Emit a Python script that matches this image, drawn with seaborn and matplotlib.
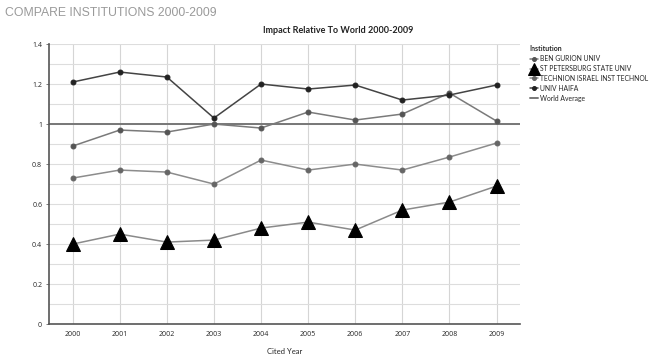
import matplotlib
matplotlib.use('Agg')
from matplotlib import pyplot as plt
import seaborn as sns
import pandas as pd

years = [2000, 2001, 2002, 2003, 2004, 2005, 2006, 2007, 2008, 2009]
ben_gurion = [0.89, 0.97, 0.96, 1.00, 0.98, 1.06, 1.02, 1.05, 1.155, 1.015]
st_petersburg = [0.40, 0.45, 0.41, 0.42, 0.48, 0.51, 0.47, 0.57, 0.61, 0.69]
technion = [0.73, 0.77, 0.76, 0.70, 0.82, 0.77, 0.80, 0.77, 0.835, 0.905]
haifa = [1.21, 1.26, 1.235, 1.03, 1.20, 1.175, 1.195, 1.12, 1.145, 1.195]
world_average = 1.0
institutions = ['BEN GURION UNIV', 'ST PETERSBURG STATE UNIV',
                'TECHNION ISRAEL INST TECHNOL', 'UNIV HAIFA']

df = pd.DataFrame({'year': years * 4,
                   'impact': ben_gurion + st_petersburg + technion + haifa,
                   'inst': [n for n in institutions for _ in years]})

sns.set_style('white')
plt.rcParams['font.family'] = ['Lato', 'DejaVu Sans']

fig = plt.figure(figsize=(6.55, 3.55), dpi=100)
ax = fig.add_axes([0.075, 0.087, 0.719, 0.789])

styles = {
    'BEN GURION UNIV': dict(color='#7a7a7a', marker='o', ms=3.5, mfc='#555555', mec='#555555'),
    'ST PETERSBURG STATE UNIV': dict(color='#8a8a8a', marker='^', ms=10, mfc='black', mec='black'),
    'TECHNION ISRAEL INST TECHNOL': dict(color='#8c8c8c', marker='o', ms=3.5, mfc='#666666', mec='#666666'),
    'UNIV HAIFA': dict(color='#444444', marker='o', ms=3.5, mfc='#222222', mec='#222222'),
}
for name in institutions:
    st = styles[name]
    sns.lineplot(data=df[df.inst == name], x='year', y='impact', ax=ax, label=name,
                 color=st['color'], marker=st['marker'], markersize=st['ms'],
                 markerfacecolor=st['mfc'], markeredgecolor=st['mec'], lw=1.1, zorder=3)
ax.axhline(world_average, color='#777777', lw=1.4, label='World Average', zorder=2)

tick_font = ['Open Sans', 'DejaVu Sans']
ax.set_xlim(1999.5, 2009.5)
ax.set_ylim(0, 1.4)
ax.set_xticks(years)
ax.set_xticklabels([str(y) for y in years], fontsize=5, family=tick_font)
ax.set_yticks([0, 0.2, 0.4, 0.6, 0.8, 1.0, 1.2, 1.4])
ax.set_yticklabels(['0', '0.2', '0.4', '0.6', '0.8', '1', '1.2', '1.4'], fontsize=5, family=tick_font)
ax.set_yticks([0.1, 0.3, 0.5, 0.7, 0.9, 1.1, 1.3], minor=True)
ax.grid(True, which='both', axis='y', color='#dddddd', lw=0.8)
ax.grid(True, axis='x', color='#d5d5d5', lw=0.8)
ax.tick_params(axis='both', length=2, width=0.6, color='#666666', pad=3, left=True, bottom=False)
ax.tick_params(axis='y', which='minor', length=0)
for side in ['top', 'right']:
    ax.spines[side].set_visible(False)
for side in ['left', 'bottom']:
    ax.spines[side].set_color('#555555')
    ax.spines[side].set_linewidth(1.2)
ax.set_xlabel('Cited Year', fontsize=5.5, labelpad=7)
ax.set_ylabel('')

leg = ax.legend(loc='upper left', bbox_to_anchor=(1.012, 1.01), frameon=False, fontsize=4.9,
                title='Institution', title_fontsize=5, handlelength=1.2,
                handletextpad=0.3, labelspacing=0.42, borderaxespad=0.2, markerscale=0.8)
leg._legend_box.align = 'left'
leg.get_title().set_fontweight('bold')

fig.text(0.516, 0.913, 'Impact Relative To World 2000-2009', fontsize=6.5,
         fontweight='bold', ha='center', va='center', color='#222222')
fig.text(0.008, 0.962, 'COMPARE INSTITUTIONS 2000-2009', fontsize=8.8,
         family=['Liberation Sans', 'DejaVu Sans'], color='#9a9a9a', ha='left', va='center')

fig.savefig('out.png', dpi=100)
